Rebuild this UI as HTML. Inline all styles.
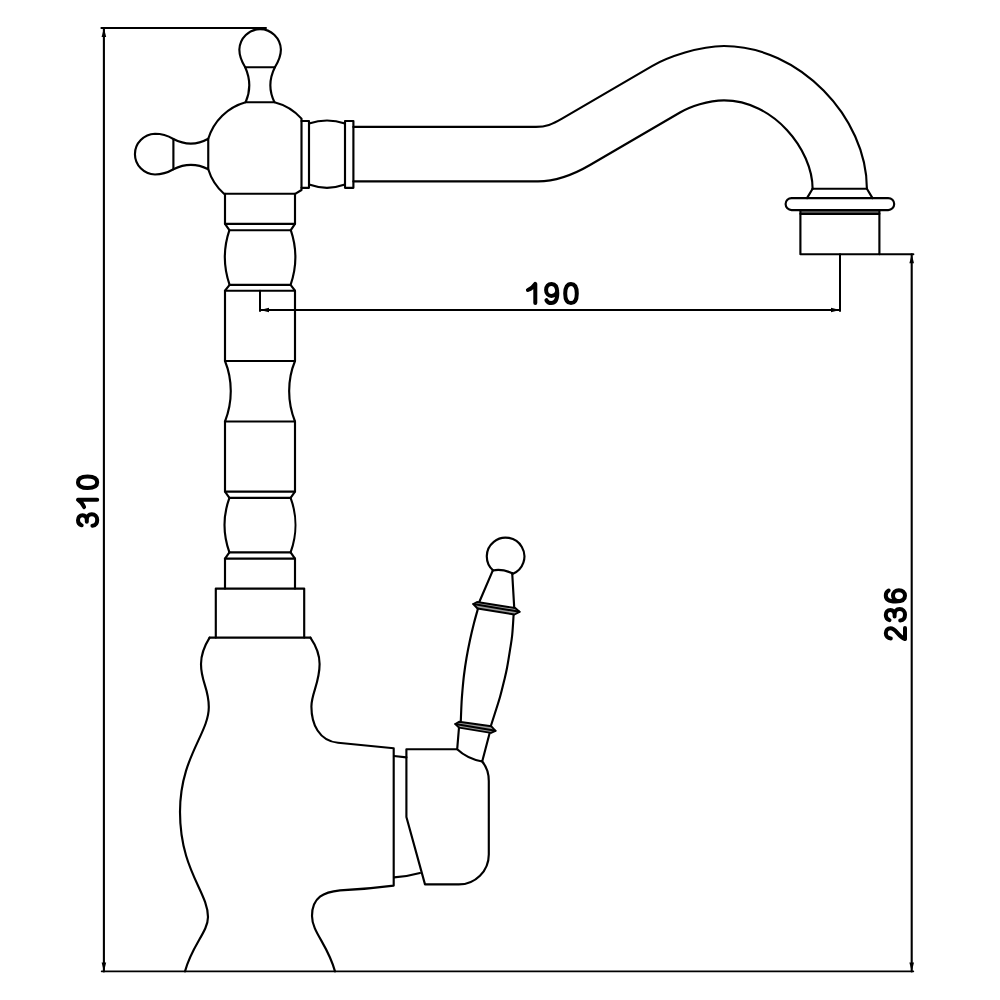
<!DOCTYPE html>
<html><head><meta charset="utf-8"><title>Faucet drawing</title>
<style>html,body{margin:0;padding:0;background:#fff;}body{width:1000px;height:1000px;overflow:hidden;font-family:"Liberation Sans",sans-serif;}svg{display:block;}</style>
</head><body>
<svg width="1000" height="1000" viewBox="0 0 1000 1000">
<rect width="1000" height="1000" fill="#fff"/>
<rect x="800.4" y="210.6" width="79" height="2.8" fill="#6a6a6a"/>
<polygon points="477,602 473.3,604 477.5,608.5 514.5,614.5 519.5,611.8 515.2,608" fill="#9a9a9a"/>
<polygon points="459,721.8 455.3,724 459,727.6 491,732.9 495.5,730.8 491.4,726.3" fill="#9a9a9a"/>
<g fill="none" stroke="#000" stroke-linecap="round" stroke-linejoin="round">
<path d="M245.2 67.2 C241.7 61.6 239.35 55.5 239.35 49.5 A20.8 21.4 0 0 1 280.9 49.5 C280.9 55.5 278.4 61.6 274.9 67.2 Z" stroke-width="2.15"/>
<path d="M245.2 67.2 C250.5 79 250.5 91 245.65 102.2 L274.45 102.2 C269 91 269 79 274.9 67.2" stroke-width="2.15"/>
<path d="M173.4 139 C167.6 135.6 161 133.75 155 133.75 A21.1 20.4 0 0 0 155 174.5 C161 174.5 167.6 172.6 173.4 169.2 Z" stroke-width="2.15"/>
<path d="M173.4 139 C185 145.1 197 145.1 208.25 138.8 L208.25 169.2 C197 163.5 185 163.5 173.4 169.2" stroke-width="2.15"/>
<path d="M208.25 169.2 A54 54 0 0 0 224 193.7 L295.6 193.7 L301.5 190 L301.5 118.6 A54 54 0 0 0 274.45 102.2" stroke-width="2.15"/>
<path d="M245.65 102.2 A54 54 0 0 0 208.25 138.8" stroke-width="2.15"/>
<path d="M301.5 121 L309 121 L309 187.8 L301.5 187.8" stroke-width="2.15"/>
<path d="M309 123.4 Q327 117.6 345 123.4" stroke-width="2.15"/>
<path d="M309 184.6 Q327 191 345 184.6" stroke-width="2.15"/>
<path d="M345 121 L353.4 121 L353.4 187.8 L345 187.8 Z" stroke-width="2.15"/>
<path d="M353.4 126.9 L536 126.9 C546 126.9 552 124.4 562 118.6 L652 66.1 C668 56.8 700 46 724 46 C799 46 866.9 117.2 866.9 188.7" stroke-width="2.15"/>
<path d="M353.4 181.4 L538 181.4 C556 181.4 572 175.5 590 165 L680 112.5 C690 106.6 708 100.4 724 100.4 C773.6 100.4 812.6 149.7 812.6 188.7" stroke-width="2.15"/>
<path d="M812.60 188.70 L866.90 188.70" stroke-width="2.15"/>
<path d="M812.60 188.70 L807.00 198.10" stroke-width="2.15"/>
<path d="M866.90 188.70 L872.50 198.10" stroke-width="2.15"/>
<path d="M791.6 198.1 L888.2 198.1 A6 6 0 0 1 888.2 210.1 L791.6 210.1 A6 6 0 0 1 791.6 198.1 Z" stroke-width="2.15"/>
<path d="M800.4 210.1 L800.4 254.2 L879.4 254.2 L879.4 210.1" stroke-width="2.15"/>
<path d="M800.40 213.80 L879.40 213.80" stroke-width="2.15"/>
<path d="M225.0 193.7 L225.0 223.8 L295.0 223.8 L295.0 193.7" stroke-width="2.15"/>
<path d="M225.0 223.8 L229.4 230.2 L290.8 230.2 L295.0 223.8" stroke-width="2.15"/>
<path d="M229.4 230.2 C223.4 248 223.4 267 229.6 284.8 L290.6 284.8 C296.8 267 296.8 248 290.8 230.2" stroke-width="2.15"/>
<path d="M229.6 284.8 L225.0 290.7 L295.0 290.7 L290.6 284.8" stroke-width="2.15"/>
<path d="M225.0 290.7 L225.0 361 L295.0 361 L295.0 290.7" stroke-width="2.15"/>
<path d="M225.0 361 C232.7 380 232.7 402 225.0 421.5 L295.0 421.5 C287.2 402 287.2 380 295.0 361" stroke-width="2.15"/>
<path d="M225.0 421.5 L225.0 491.6 L295.0 491.6 L295.0 421.5" stroke-width="2.15"/>
<path d="M225.0 491.6 L229.4 497.8 L290.6 497.8 L295.0 491.6" stroke-width="2.15"/>
<path d="M229.4 497.8 C223.2 515 223.2 535 229.4 552.4 L290.6 552.4 C297 535 297 515 290.6 497.8" stroke-width="2.15"/>
<path d="M229.4 552.4 L225.0 558.6 L295.0 558.6 L290.6 552.4" stroke-width="2.15"/>
<path d="M225.0 558.6 L225.0 588.6 M295.0 558.6 L295.0 588.6" stroke-width="2.15"/>
<path d="M215.8 588.6 L304.2 588.6 L304.2 637.6 M215.8 637.6 L215.8 588.6" stroke-width="2.15"/>
<path d="M209.60 637.60 L310.40 637.60" stroke-width="2.15"/>
<path d="M209.6 637.6 C205 645 201 654 201 664 C201 682 208.8 688 208.8 707 C208.8 734 180 757 180 812 C180 870 208 892 208 917 C208 932 192 945 185 971.4" stroke-width="2.15"/>
<path d="M310.4 637.6 C315.5 645 319.6 654 319.6 664 C319.6 683 311.4 693.4 311.4 706.4 C311.4 724 319 741 338 742.8 L393.7 748.2 L393.7 885.6 Q366 889.2 340 890.4 C324 892 312 897 312 916 C312 932 328 945 335 971.4" stroke-width="2.15"/>
<path d="M394 756 L406.4 757.4" stroke-width="2.15"/>
<path d="M457.2 749.2 L406.4 749.2 L406.4 817 L425 884.4 L458.6 884.4 A30 30 0 0 0 488.8 854.4 L488.8 781 C488.8 772 486 766 482.2 761.5" stroke-width="2.15"/>
<path d="M394 877.4 Q408 876.4 420 873" stroke-width="2.15"/>
<path d="M459 727.5 L457.2 749.2 Q467 758.5 482.2 761.5 L489.6 733.2" stroke-width="2.15"/>
<path d="M459 721.8 L455.3 724 L459 727.6 L491 732.9 L495.5 730.8 L491.4 726.3 Z" stroke-width="1.95"/>
<path d="M455.30 724.00 L495.50 730.80" stroke-width="1.95"/>
<path d="M478.00 608.50 C477.33 610.92 475.33 617.75 474.00 623.00 C472.67 628.25 471.25 634.17 470.00 640.00 C468.75 645.83 467.50 652.17 466.50 658.00 C465.50 663.83 464.67 669.67 464.00 675.00 C463.33 680.33 462.90 685.50 462.50 690.00 C462.10 694.50 461.88 696.83 461.60 702.00 C461.32 707.17 460.93 717.83 460.80 721.00" stroke-width="2.15"/>
<path d="M513.60 615.00 C513.37 618.33 512.80 629.17 512.20 635.00 C511.60 640.83 510.87 644.50 510.00 650.00 C509.13 655.50 507.95 663.00 507.00 668.00 C506.05 673.00 505.47 675.17 504.30 680.00 C503.13 684.83 501.55 691.50 500.00 697.00 C498.45 702.50 496.50 708.25 495.00 713.00 C493.50 717.75 491.67 723.42 491.00 725.50" stroke-width="2.15"/>
<path d="M477 602 L473.3 604 L477.5 608.5 L514.5 614.5 L519.5 611.8 L515.2 608 Z" stroke-width="1.95"/>
<path d="M473.30 604.00 L519.50 611.80" stroke-width="1.95"/>
<path d="M492.85 570.45 L479.30 602.00" stroke-width="2.15"/>
<path d="M512.20 573.15 L514.20 607.40" stroke-width="2.15"/>
<path d="M492.97 570.32 A18.8 18.8 0 1 1 512.49 573.89" stroke-width="2.15"/>
<path d="M492.85 570.45 Q501.5 568.4 512.2 573.15" stroke-width="2.15"/>
<path d="M101.40 28.10 L266.00 28.10" stroke-width="2"/>
<path d="M103.90 28.10 L103.90 971.40" stroke-width="2.1"/>
<path d="M101.60 971.40 L913.40 971.40" stroke-width="1.6"/>
<path d="M911.70 254.20 L911.70 971.40" stroke-width="2.1"/>
<path d="M879.40 254.20 L913.40 254.20" stroke-width="2"/>
<path d="M260.00 290.70 L260.00 311.00" stroke-width="2"/>
<path d="M260.00 310.00 L840.00 310.00" stroke-width="2"/>
<path d="M840.00 254.20 L840.00 311.00" stroke-width="2"/>
</g>
<g fill="#000">
<polygon points="103.9,28.1 106.2,37.1 101.6,37.1"/>
<polygon points="103.9,971.4 101.6,962.4 106.2,962.4"/>
<polygon points="911.7,254.2 914.0,263.2 909.4,263.2"/>
<polygon points="911.7,971.4 909.4,962.4 914.0,962.4"/>
<polygon points="260.0,310.0 269.0,307.7 269.0,312.3"/>
<polygon points="840.0,310.0 831.0,312.3 831.0,307.7"/>
</g>
<g fill="none" stroke="#000" stroke-width="4" stroke-linecap="round" stroke-linejoin="round">
<path transform="translate(535.30 283.9)" d="M-7.4 6.1 Q-2.6 4.2 0 0 L0 19.2"/>
<path transform="translate(551.70 283.9)" d="M-5.30 16.30 C-4.20 18.30 -2.50 19.20 -0.40 19.20 C3.60 19.20 5.60 15.60 5.60 9.20 C5.60 3.20 3.60 0.00 -0.10 0.00 C-3.40 0.00 -5.60 2.50 -5.60 6.10 C-5.60 9.50 -3.40 12.00 -0.20 12.00 C2.80 12.00 5.20 9.80 5.50 6.60"/>
<path transform="translate(571.00 283.9)" d="M0 0 C3.6 0 5.8 3.4 5.8 9.6 C5.8 15.8 3.6 19.2 0 19.2 C-3.6 19.2 -5.8 15.8 -5.8 9.6 C-5.8 3.4 -3.6 0 0 0 Z"/>
<path transform="translate(78.0 520.00) rotate(-90)" d="M-5.3 3.7 C-4.5 1.3 -2.6 0 -0.2 0 C2.7 0 4.8 1.8 4.8 4.6 C4.8 7.3 2.9 8.8 0.3 8.8 L-1.7 8.8 M0.3 8.8 C3.4 8.8 5.7 10.6 5.7 13.8 C5.7 17 3.3 19.2 0 19.2 C-3.2 19.2 -5.4 17.4 -5.8 14.4"/>
<path transform="translate(78.0 499.70) rotate(-90)" d="M-7.4 6.1 Q-2.6 4.2 0 0 L0 19.2"/>
<path transform="translate(78.0 482.20) rotate(-90)" d="M0 0 C3.6 0 5.8 3.4 5.8 9.6 C5.8 15.8 3.6 19.2 0 19.2 C-3.6 19.2 -5.8 15.8 -5.8 9.6 C-5.8 3.4 -3.6 0 0 0 Z"/>
<path transform="translate(885.8 633.40) rotate(-90)" d="M-5 5 C-4.8 2 -2.8 0 0.1 0 C3 0 5.1 1.9 5.1 4.7 C5.1 7.2 3.6 8.9 0.8 11.3 C-2.2 13.8 -4.4 15.8 -5.6 19.2 L5.5 19.2"/>
<path transform="translate(885.8 614.80) rotate(-90)" d="M-5.3 3.7 C-4.5 1.3 -2.6 0 -0.2 0 C2.7 0 4.8 1.8 4.8 4.6 C4.8 7.3 2.9 8.8 0.3 8.8 L-1.7 8.8 M0.3 8.8 C3.4 8.8 5.7 10.6 5.7 13.8 C5.7 17 3.3 19.2 0 19.2 C-3.2 19.2 -5.4 17.4 -5.8 14.4"/>
<path transform="translate(885.8 595.80) rotate(-90)" d="M5.3 2.9 C4.2 0.9 2.5 0 0.4 0 C-3.6 0 -5.6 3.6 -5.6 10 C-5.6 16 -3.6 19.2 0.1 19.2 C3.4 19.2 5.6 16.7 5.6 13.1 C5.6 9.7 3.4 7.2 0.2 7.2 C-2.8 7.2 -5.2 9.4 -5.5 12.6"/>
</g></svg>
</body></html>
